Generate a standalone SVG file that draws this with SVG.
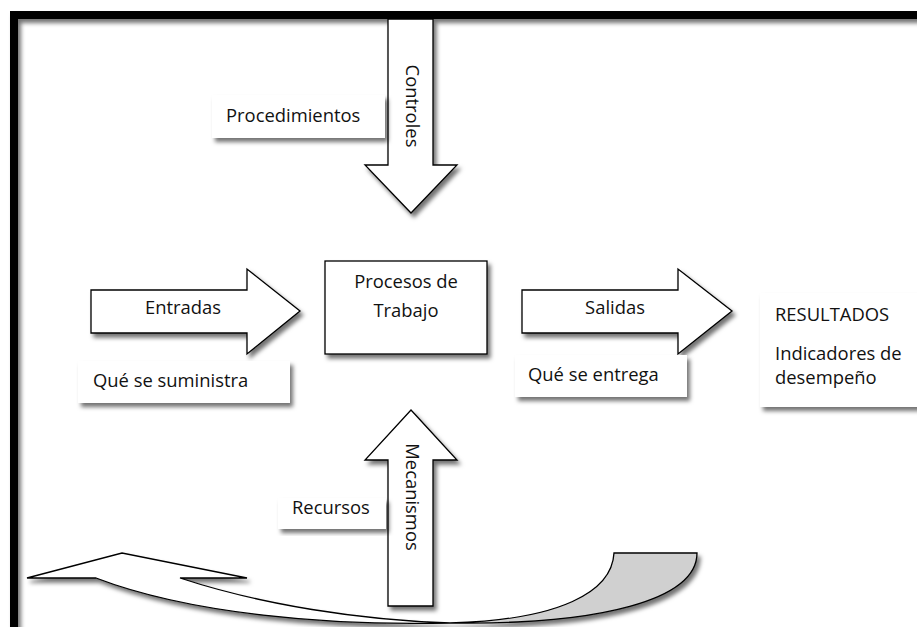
<svg xmlns="http://www.w3.org/2000/svg" width="917" height="627" viewBox="0 0 917 627">
<defs>
<filter id="sh" x="-20%" y="-20%" width="140%" height="140%">
<feDropShadow dx="3" dy="4" stdDeviation="2.2" flood-color="#000" flood-opacity="0.55"/>
</filter>
</defs>
<style>
text{font-family:"Open Sans","Liberation Sans",sans-serif;font-size:18.4px;fill:#111}
.shape{fill:#fff;stroke:#000;stroke-width:1.3}
.lab{fill:#fff;stroke:none}
</style>
<rect width="917" height="627" fill="#fff"/>
<rect id="frame" x="14" y="15" width="1000" height="1000" fill="none" stroke="#000" stroke-width="8" filter="url(#sh)"/>

<g id="connectors">
<g id="controles">
<polygon class="shape" filter="url(#sh)" points="388,19 433,19 433,165 457,165 411,213 365,165 388,165"/>
<text transform="translate(406,106) rotate(90)" text-anchor="middle">Controles</text>
</g>
<g id="mecanismos">
<polygon class="shape" filter="url(#sh)" points="411,410 457,460 433,460 433,606 388,606 388,460 365,460"/>
<text transform="translate(406,497) rotate(90)" text-anchor="middle">Mecanismos</text>
</g>
<g id="entradas">
<polygon class="shape" filter="url(#sh)" points="91,290 247,290 247,269 300,311 247,354 247,333 91,333"/>
<text x="183" y="314" text-anchor="middle">Entradas</text>
</g>
<g id="salidas">
<polygon class="shape" filter="url(#sh)" points="522,290 678,290 678,269 732,311 678,354 678,333 522,333"/>
<text x="615" y="314" text-anchor="middle">Salidas</text>
</g>
<g id="retro" filter="url(#sh)">
<path class="shape" d="M 27,578 L 122,553 L 247,578 L 180,578 C 262,605 360,620 450,623 C 330,626 190,614 96,578 Z"/>
<path d="M 450,623 C 560,620 612,592 614,553 L 697,553 C 697,600 600,625 450,623 Z" fill="#d0d0d0" stroke="#000" stroke-width="1.3"/>
</g>
</g>

<g id="procesos">
<rect class="shape" filter="url(#sh)" x="325" y="261" width="162" height="93"/>
<text x="406" y="288" text-anchor="middle">Procesos de</text>
<text x="406" y="317" text-anchor="middle">Trabajo</text>
</g>
<g id="procedimientos">
<rect class="lab" filter="url(#sh)" x="212" y="95" width="173" height="43"/>
<text x="226" y="122">Procedimientos</text>
</g>
<g id="suministra">
<rect class="lab" filter="url(#sh)" x="78" y="361" width="212" height="42"/>
<text x="93" y="387">Qué se suministra</text>
</g>
<g id="entrega">
<rect class="lab" filter="url(#sh)" x="515" y="355" width="172" height="42"/>
<text x="528" y="381">Qué se entrega</text>
</g>
<g id="recursos">
<rect class="lab" filter="url(#sh)" x="278" y="498" width="108" height="31"/>
<text x="292" y="514">Recursos</text>
</g>
<g id="resultados">
<rect class="lab" filter="url(#sh)" x="760" y="293" width="170" height="114"/>
<text x="775" y="321">RESULTADOS</text>
<text x="775" y="360">Indicadores de</text>
<text x="775" y="384">desempeño</text>
</g>
</svg>
